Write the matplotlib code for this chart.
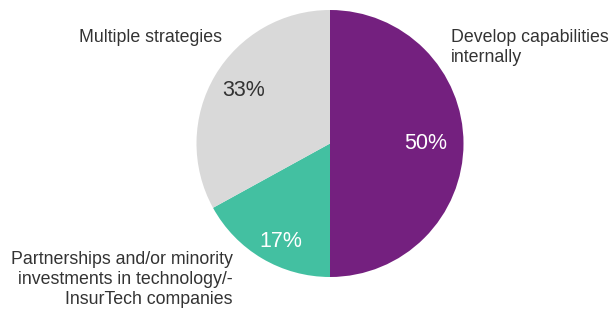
import numpy as np
import matplotlib.pyplot as plt

plt.rcParams['font.family'] = ['Liberation Sans', 'DejaVu Sans']

labels = ['Develop capabilities\ninternally',
          'Partnerships and/or minority\ninvestments in technology/-\nInsurTech companies',
          'Multiple strategies']
values = [50, 17, 33]
colors = ['#74207F', '#43C0A1', '#D9D9D9']
pct_colors = ['white', 'white', '#333333']
pct_dist = [0.72, 0.82, 0.76]
pct_nudge = [0, 4, -1]  # degrees

W, H = 616, 309
fig = plt.figure(figsize=(W / 100, H / 100), dpi=100)

# pie centre and radius in pixels
cx, cy, r = 330, 143.5, 133.5
ax = fig.add_axes([(cx - r) / W, (H - cy - r) / H, 2 * r / W, 2 * r / H])

wedges, texts, autotexts = ax.pie(values, colors=colors, startangle=90,
                                  counterclock=False, autopct=lambda p: f'{p:.0f}%',
                                  radius=1, wedgeprops=dict(linewidth=0))
for w, t, c, d, n in zip(wedges, autotexts, pct_colors, pct_dist, pct_nudge):
    ang = np.deg2rad((w.theta1 + w.theta2) / 2 + n)
    t.set_position((d * np.cos(ang), d * np.sin(ang)))
    t.set_color(c)
    t.set_fontsize(15.5)
ax.set_aspect('equal')
ax.set_xlim(-1, 1)
ax.set_ylim(-1, 1)

# multiline baseline = last line's baseline
txt = dict(fontsize=12.8, color='#333333', linespacing=1.23)
fig.text(451 / W, 1 - 61.7 / H, labels[0], ha='left', va='baseline', **txt)
fig.text(233 / W, 1 - 304 / H, labels[1], ha='right', va='baseline', multialignment='right', **txt)
fig.text(79 / W, 1 - 41.7 / H, labels[2], ha='left', va='baseline', **txt)

fig.savefig('out.png', dpi=100)
